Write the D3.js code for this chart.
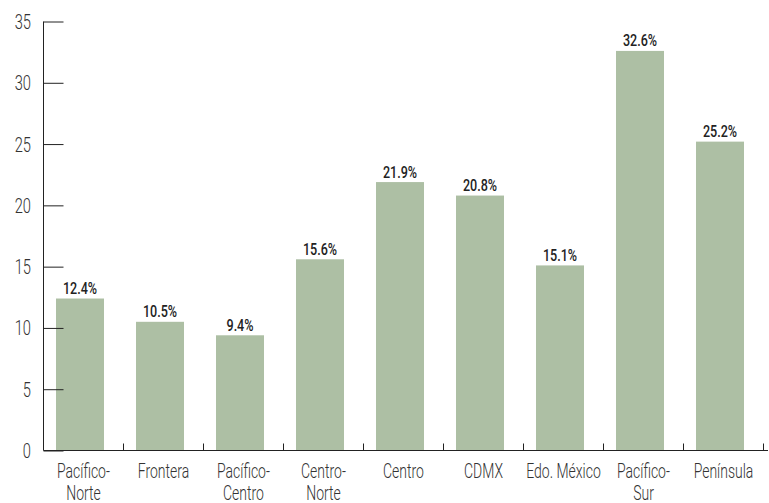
<!DOCTYPE html>
<html><head><meta charset="utf-8">
<script src="https://cdn.jsdelivr.net/npm/d3@7"></script>
<style>
body{margin:0;background:#fff;}
text{font-family:"Roboto","Open Sans",sans-serif;}
</style></head>
<body><svg id="c" width="769" height="503"></svg>
<script>
const categories = [["Pacífico-","Norte"],["Frontera"],["Pacífico-","Centro"],["Centro-","Norte"],["Centro"],["CDMX"],["Edo. México"],["Pacífico-","Sur"],["Península"]];
const values = [12.4,10.5,9.4,15.6,21.9,20.8,15.1,32.6,25.2];
const yTicks = [0,5,10,15,20,25,30,35];
const valueLabels = values.map(v => v.toFixed(1) + "%");

const SX = 0.7;  // horizontal condensation to mimic a condensed face
const SXV = 0.74;
const svg = d3.select("#c");
const keys = categories.map((c,i)=>i);
const xAxis = d3.scaleBand().domain(keys).range([43.5,763.5]);
const xBar = d3.scaleBand().domain(keys).range([40,760]).paddingInner(0.4).paddingOuter(0.2);
const y = d3.scaleLinear().domain([0,35]).range([450.5,21.5]);

// bars
svg.selectAll("rect.bar").data(values).join("rect")
  .attr("x",(d,i)=>xBar(i)).attr("width",xBar.bandwidth())
  .attr("y",d=>y(d)).attr("height",d=>y(0)-y(d))
  .attr("fill","#adbfa4");

// y axis
const ya = svg.append("g").attr("transform","translate(43.5,0)")
  .call(d3.axisRight(y).tickValues(yTicks).tickSize(20).tickFormat(""));
ya.select(".domain").remove();
ya.selectAll("line").attr("stroke","#222");
ya.append("line").attr("x1",0).attr("x2",0).attr("y1",y(35)).attr("y2",y(0)).attr("stroke","#222");
svg.append("g").selectAll("text").data(yTicks).join("text")
  .attr("transform",d=>`translate(31,${y(d)+7.5}) scale(${SX},1)`).attr("text-anchor","end")
  .attr("font-size",21).attr("font-weight",300).attr("fill","#333").text(d=>d);

// x axis
const xa = svg.append("g").attr("transform",`translate(0,${y(0)})`);
xa.append("line").attr("x1",43.5).attr("x2",768).attr("stroke","#222");
xa.selectAll("line.t").data(keys).join("line").attr("class","t")
  .attr("x1",d=>xAxis(d)+xAxis.bandwidth()).attr("x2",d=>xAxis(d)+xAxis.bandwidth())
  .attr("y1",0).attr("y2",-7).attr("stroke","#222");

const lab = svg.append("g").selectAll("text").data(categories).join("text")
  .attr("text-anchor","middle").attr("font-size",20).attr("font-weight",300).attr("fill","#333")
  .attr("transform",(d,i)=>`translate(${xAxis(i)+xAxis.bandwidth()/2},477.5) scale(${SX},1)`);
lab.selectAll("tspan").data(d=>d).join("tspan")
  .attr("x",0).attr("dy",(d,j)=>j===0?0:22.5).text(d=>d);

// value labels
svg.append("g").selectAll("text").data(values).join("text")
  .attr("transform",(d,i)=>`translate(${xBar(i)+xBar.bandwidth()/2},${y(d)-4.5}) scale(${SXV},1)`)
  .attr("text-anchor","middle").attr("font-size",17).attr("font-weight",500)
  .attr("fill","#222").text((d,i)=>valueLabels[i]);
</script></body></html>
